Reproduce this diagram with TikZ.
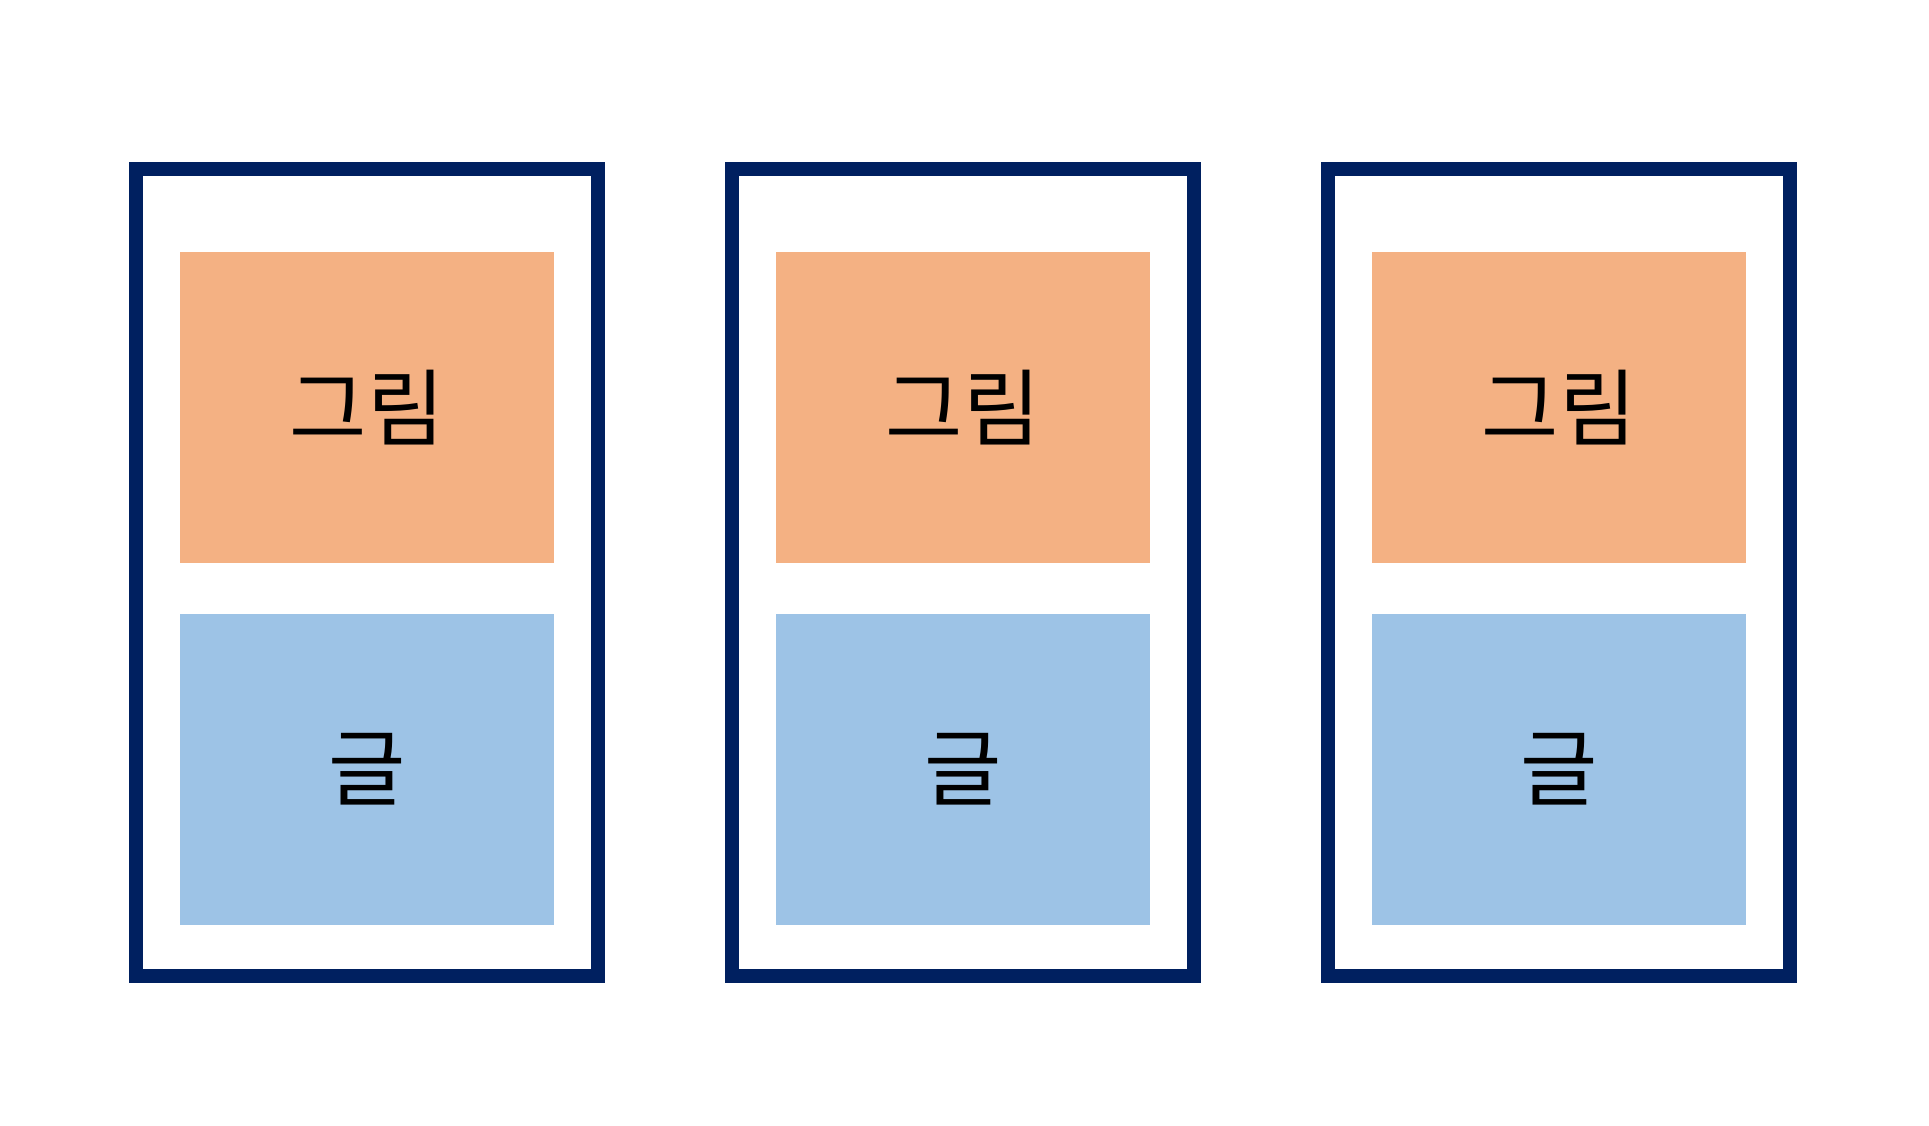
\documentclass[tikz,border=0pt]{standalone}
\usepackage{fontspec}
\newfontfamily\krfont{Noto Sans CJK KR}
\definecolor{navyframe}{HTML}{002060}
\definecolor{picorange}{HTML}{F4B183}
\definecolor{textblue}{HTML}{9DC3E6}
\begin{document}
\begin{tikzpicture}[x=1pt,y=-1pt,
  frame/.style={draw=navyframe,line width=14pt,fill=white,minimum width=462pt,minimum height=807pt,inner sep=0pt,outer sep=0pt},
  picbox/.style={fill=picorange,minimum width=374pt,minimum height=311pt,inner sep=0pt,font=\krfont\fontsize{84}{100}\selectfont},
  txtbox/.style={fill=textblue,minimum width=374pt,minimum height=311pt,inner sep=0pt,font=\krfont\fontsize{84}{100}\selectfont}]
\useasboundingbox[fill=white] (0,0) rectangle (1929,1126);
\foreach \i/\cx in {1/367,2/963,3/1559}{
  \node[frame] (f\i) at (\cx,572.5) {};
  \node[picbox] (p\i) at (\cx,407.5) {그림};
  \node[txtbox] (t\i) at (\cx,769.5) {글};
}
\end{tikzpicture}
\end{document}
